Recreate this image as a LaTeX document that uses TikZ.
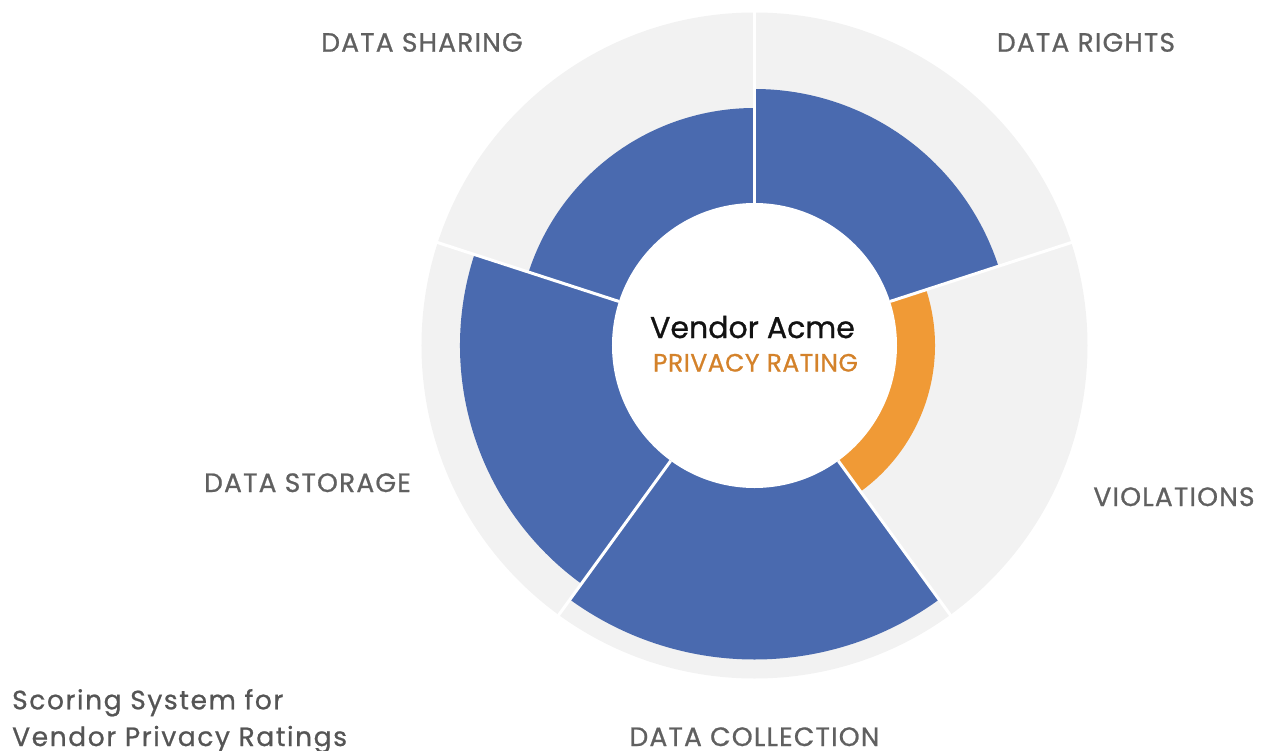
\documentclass[tikz,border=0pt]{standalone}
\usepackage{fontspec}
\setmainfont{Poppins}
\newfontfamily\catfont[LetterSpace=4.5,FakeBold=0.8]{Poppins}
\newfontfamily\titlefont[LetterSpace=6,FakeBold=0.8]{Poppins}
\newfontfamily\hubfont[FakeBold=0.9]{Poppins}
\newfontfamily\ratingfont[LetterSpace=2,FakeBold=0.8]{Poppins}
\definecolor{scoreblue}{HTML}{4A6AAF}
\definecolor{scoreorange}{HTML}{F09A36}
\definecolor{ringgrey}{HTML}{F2F2F2}
\definecolor{labelgrey}{HTML}{606060}
\definecolor{titlegrey}{HTML}{555555}
\definecolor{ratingorange}{HTML}{D4822A}
\tikzset{
  category/.style={anchor=base, text=labelgrey, font=\catfont\fontsize{26.5}{31}\selectfont, inner sep=0pt},
  titleline/.style={anchor=base west, inner sep=0pt, text=titlegrey, font=\titlefont\fontsize{26.5}{31}\selectfont},
  separator/.style={draw=white, line width=3pt},
}
% annular wedge from the centre: #1 start angle, #2 end angle, #3 radius
\newcommand{\wedgefill}[4]{%
  \fill[#4] (0,0) -- (#1:#3pt) arc[start angle=#1, end angle=#2, radius=#3pt] -- cycle;}
\begin{document}
\begin{tikzpicture}[x=1pt,y=1pt]
  \useasboundingbox (-754.5,-404.5) rectangle (516.5,345.5);
  % background ring
  \fill[ringgrey] (0,0) circle[radius=333pt];
  % scores per category
  \wedgefill{18}{90}{256.5}{scoreblue}     % data rights
  \wedgefill{-54}{18}{180.5}{scoreorange}  % violations
  \wedgefill{-126}{-54}{314}{scoreblue}    % data collection
  \wedgefill{162}{234}{294.5}{scoreblue}   % data storage
  \wedgefill{90}{162}{237.5}{scoreblue}    % data sharing
  % hub
  \fill[white] (0,0) circle[radius=142.5pt];
  \foreach \a in {90,18,-54,-126,162}
    \draw[separator] (\a:142.5pt) -- (\a:334pt);
  % centre text
  \node[anchor=base, inner sep=0pt, text=black!93, font=\hubfont\fontsize{30}{36}\selectfont] (vendor) at (-2,7.5) {Vendor Acme};
  \node[anchor=base, inner sep=0pt, text=ratingorange, font=\ratingfont\fontsize{25}{30}\selectfont] (rating) at (1,-26) {PRIVACY RATING};
  % category labels
  \node[category] (sharing) at (-332.5,293.8) {DATA SHARING};
  \node[category] (rights) at (331.5,293.8) {DATA RIGHTS};
  \node[category] (violations) at (419.5,-160.5) {VIOLATIONS};
  \node[category] (storage) at (-447,-146.5) {DATA STORAGE};
  \node[category] (collection) at (0,-400.5) {DATA COLLECTION};
  % title
  \node[titleline] (title1) at (-742.5,-363.8) {Scoring System for};
  \node[titleline] (title2) at (-742.5,-400.5) {Vendor Privacy Ratings};
\end{tikzpicture}
\end{document}
